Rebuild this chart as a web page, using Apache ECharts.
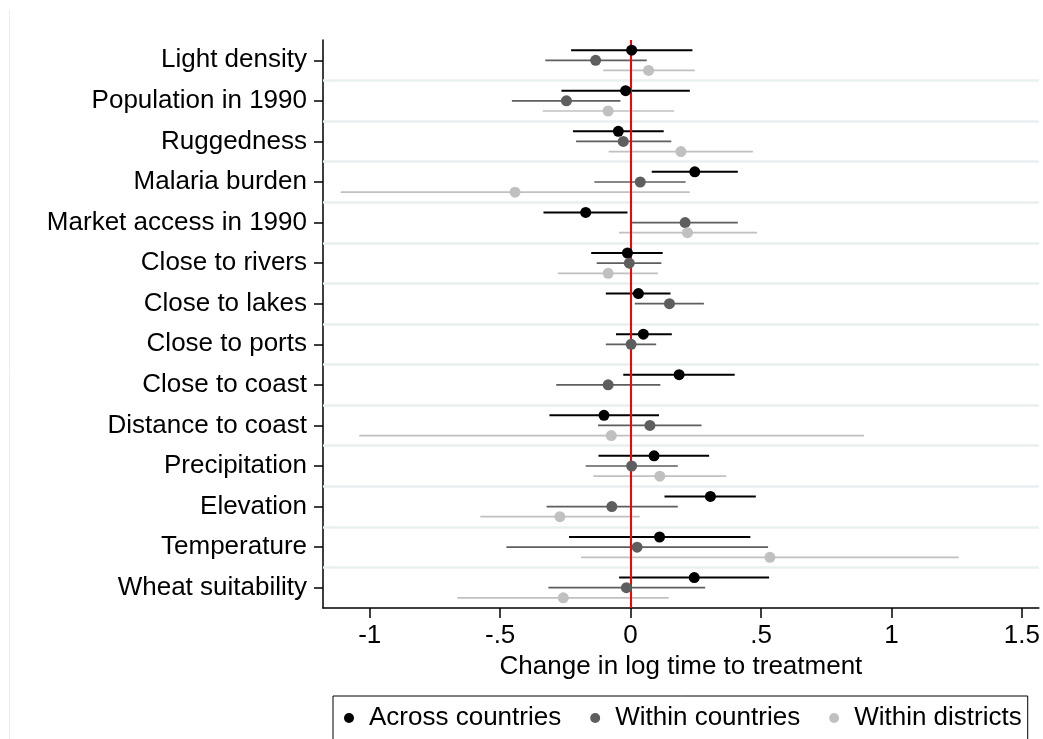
<!DOCTYPE html>
<html>
<head>
<meta charset="utf-8">
<script src="https://cdn.jsdelivr.net/npm/echarts@6/dist/echarts.min.js"></script>
<style>
  html, body { margin: 0; padding: 0; background: #fff; }
  #chart { width: 1043px; height: 739px; }
</style>
</head>
<body>
<div id="chart"></div>
<script>
// covariates, top to bottom
var categories = ['Light density', 'Population in 1990', 'Ruggedness', 'Malaria burden',
    'Market access in 1990', 'Close to rivers', 'Close to lakes', 'Close to ports',
    'Close to coast', 'Distance to coast', 'Precipitation', 'Elevation',
    'Temperature', 'Wheat suitability'];

var xTicks = [-1, -0.5, 0, 0.5, 1, 1.5];
var xTickLabels = ['-1', '-.5', '0', '.5', '1', '1.5'];

// point estimates
var acrossEst = [0.004, -0.019, -0.047, 0.246, -0.172, -0.012, 0.030, 0.049, 0.186, -0.102, 0.090, 0.306, 0.111, 0.244];
var withinCEst = [-0.134, -0.246, -0.028, 0.037, 0.209, -0.005, 0.149, 0.002, -0.086, 0.074, 0.004, -0.072, 0.025, -0.016];
var withinDEst = [0.069, -0.086, 0.193, -0.443, 0.218, -0.086, null, null, null, -0.074, 0.112, -0.271, 0.534, -0.258];

// confidence intervals (lower, upper)
var acrossLo = [-0.228, -0.265, -0.221, 0.081, -0.334, -0.151, -0.095, -0.056, -0.028, -0.311, -0.123, 0.130, -0.236, -0.044];
var acrossHi = [0.237, 0.227, 0.127, 0.411, -0.012, 0.123, 0.153, 0.158, 0.399, 0.109, 0.301, 0.480, 0.459, 0.531];
var withinCLo = [-0.327, -0.455, -0.209, -0.139, 0.004, -0.130, 0.016, -0.095, -0.285, -0.125, -0.172, -0.322, -0.476, -0.315];
var withinCHi = [0.062, -0.039, 0.156, 0.211, 0.411, 0.118, 0.281, 0.098, 0.114, 0.272, 0.181, 0.181, 0.527, 0.286];
var withinDLo = [-0.105, -0.337, -0.084, -1.111, -0.044, -0.279, null, null, null, -1.040, -0.142, -0.576, -0.190, -0.664];
var withinDHi = [0.246, 0.167, 0.469, 0.227, 0.485, 0.105, null, null, null, 0.895, 0.367, 0.035, 1.258, 0.146];

var seriesNames = ['Across countries', 'Within countries', 'Within districts'];
var seriesColors = ['#000000', '#5e5e5e', '#c0c0c0'];
var seriesShift = [-0.25, 0, 0.25];   // offset inside a row, in row units
var lineWidths = [2, 1.7, 1.7];

var FONT = 'Liberation Sans, Arial, sans-serif';

function pointData(est, k) {
    var out = [];
    est.forEach(function (v, i) {
        if (v !== null) out.push([v, i + seriesShift[k]]);
    });
    return out;
}

function ciData(lo, hi, k) {
    var out = [];
    lo.forEach(function (v, i) {
        if (v !== null) out.push([v, hi[i], i + seriesShift[k]]);
    });
    return out;
}

var ests = [acrossEst, withinCEst, withinDEst];
var los = [acrossLo, withinCLo, withinDLo];
var his = [acrossHi, withinCHi, withinDHi];

var series = [];

// row separators
var sepLines = [];
for (var i = 0; i < categories.length - 1; i++) {
    sepLines.push({ yAxis: i + 0.5 });
}
series.push({
    type: 'line',
    data: [],
    silent: true,
    markLine: {
        silent: true,
        symbol: 'none',
        label: { show: false },
        lineStyle: { color: '#e8eff1', width: 2.5, type: 'solid' },
        data: sepLines
    }
});

// zero line
series.push({
    type: 'line',
    data: [],
    silent: true,
    z: 3,
    markLine: {
        silent: true,
        symbol: 'none',
        label: { show: false },
        lineStyle: { color: '#ff0000', width: 2, type: 'solid' },
        data: [{ xAxis: 0 }]
    }
});

// confidence intervals
for (var k = 0; k < 3; k++) {
    (function (k) {
        series.push({
            type: 'custom',
            z: 4,
            silent: true,
            data: ciData(los[k], his[k], k),
            encode: { x: [0, 1], y: 2 },
            renderItem: function (params, api) {
                var a = api.coord([api.value(0), api.value(2)]);
                var b = api.coord([api.value(1), api.value(2)]);
                return {
                    type: 'line',
                    shape: { x1: a[0], y1: a[1], x2: b[0], y2: b[1] },
                    style: { stroke: seriesColors[k], lineWidth: lineWidths[k] }
                };
            }
        });
    })(k);
}

// point estimates
for (var k2 = 0; k2 < 3; k2++) {
    series.push({
        name: seriesNames[k2],
        type: 'scatter',
        z: 5,
        symbol: 'circle',
        symbolSize: 11,
        itemStyle: { color: seriesColors[k2], opacity: 1 },
        data: pointData(ests[k2], k2)
    });
}

var chart = echarts.init(document.getElementById('chart'), null, { renderer: 'canvas' });
chart.setOption({
    animation: false,
    backgroundColor: '#ffffff',
    textStyle: { fontFamily: FONT },
    grid: { left: 323, right: 3, top: 40, bottom: 131, containLabel: false },
    xAxis: {
        type: 'value',
        min: -1.179,
        max: 1.565,
        name: 'Change in log time to treatment',
        nameLocation: 'middle',
        nameGap: 43,
        nameTextStyle: { fontSize: 26, color: '#000', fontFamily: FONT },
        axisLine: { show: true, onZero: false, lineStyle: { color: '#000', width: 1.5 } },
        axisTick: { show: true, length: 10, lineStyle: { color: '#000', width: 1.5 }, customValues: xTicks },
        axisLabel: {
            fontSize: 26, color: '#000', margin: 15, fontFamily: FONT,
            customValues: xTicks,
            formatter: function (v) {
                var idx = xTicks.indexOf(v);
                return idx >= 0 ? xTickLabels[idx] : '';
            }
        },
        splitLine: { show: false }
    },
    yAxis: {
        type: 'value',
        inverse: true,
        min: -0.5,
        max: 13.5,
        axisLine: { show: true, onZero: false, lineStyle: { color: '#000', width: 1.5 } },
        axisTick: {
            show: true, length: 9, lineStyle: { color: '#000', width: 1.5 },
            customValues: categories.map(function (c, i) { return i; })
        },
        axisLabel: {
            fontSize: 26, color: '#000', margin: 16, fontFamily: FONT,
            customValues: categories.map(function (c, i) { return i; }),
            formatter: function (v) { return categories[Math.round(v)] || ''; }
        },
        splitLine: { show: false }
    },
    legend: {
        data: seriesNames.map(function (n) { return { name: n, icon: 'circle' }; }),
        left: 333,
        top: 696,
        orient: 'horizontal',
        itemWidth: 10,
        itemHeight: 10,
        itemGap: 29,
        padding: [9, 6, 30, 11],
        borderColor: '#000',
        borderWidth: 1,
        selectedMode: false,
        textStyle: { fontSize: 26, color: '#000', fontFamily: FONT, padding: [0, 0, 0, 10] }
    },
    graphic: [{
        type: 'line',
        shape: { x1: 9.5, y1: 10, x2: 9.5, y2: 739 },
        style: { stroke: '#ececec', lineWidth: 1 },
        silent: true
    }],
    series: series
});
</script>
</body>
</html>
